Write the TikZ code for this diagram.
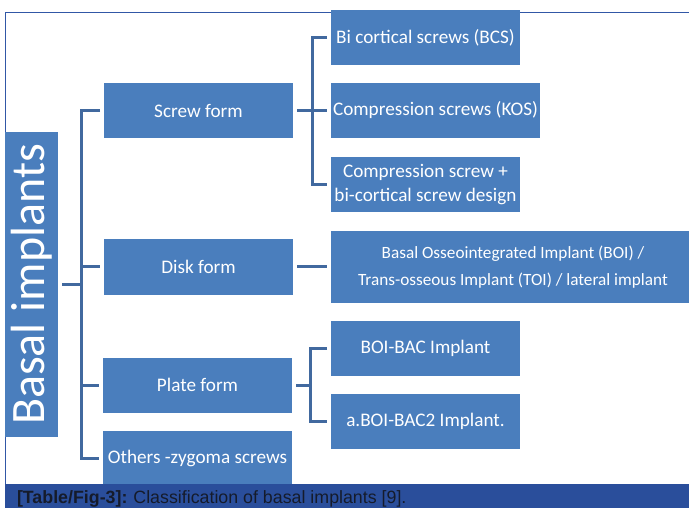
\documentclass[tikz,border=0pt]{standalone}
\usepackage{fontspec}
\setmainfont{Carlito}
\newfontfamily\capfont{Liberation Sans}
\usetikzlibrary{
  positioning,
  calc
}
\definecolor{imblue}{HTML}{4A7EBD}
\definecolor{imline}{HTML}{41699F}
\definecolor{imframe}{HTML}{3157A6}
\definecolor{imbar}{HTML}{2A4E9B}
\definecolor{imcap}{HTML}{151B2B}

\begin{document}
\begin{tikzpicture}[
  x=1pt, y=-1pt,
  every node/.style={fill=imblue, text=white, inner sep=2pt,
    outer xsep=4pt, outer ysep=0pt, align=center},
  rootbox/.style={minimum width=53pt, minimum height=305pt,
    font=\fontsize{48}{50}\selectfont},
  formbox/.style={minimum width=189pt, minimum height=55pt,
    font=\fontsize{19.2}{24}\selectfont},
  leafbox/.style={formbox},
  link/.style={draw=imline, line width=3pt}
]
\useasboundingbox (0,0) rectangle (689,508);

% frame
\draw[imframe, line width=1.3pt] (689,12.7) -- (5.5,12.7) -- (5.5,484);

% root and forms
\node[rootbox] (root) at (31.5,284.5) {\rotatebox{90}{Basal implants}};
\node[formbox] (screw)  at (198.5,110.5) {Screw form};
\node[formbox] (disk)   at (198.5,267)   {Disk form};
\node[formbox] (plate)  at (197.5,385)   {Plate form};
\node[formbox, minimum height=54pt] (others) at (197.5,458) {Others -zygoma screws};

% leaves
\node[leafbox] (bcs)   at (425.5,38)    {Bi cortical screws (BCS)};
\node[leafbox, minimum width=209pt] (kos) at (435.5,110.5) {Compression screws (KOS)};
\node[leafbox] (combo) at (425.5,184.5) {Compression screw +\\bi-cortical screw design};
\node[leafbox, minimum width=364pt, minimum height=72pt,
  font=\fontsize{17.2}{27}\selectfont] (toi) at (513,267)
  {Basal Osseointegrated Implant (BOI) /\\Trans-osseous Implant (TOI) / lateral implant};
\node[leafbox] (bac)   at (425.5,348.5) {BOI-BAC Implant};
\node[leafbox] (bac2)  at (425.5,421.5) {a.BOI-BAC2 Implant.};

% connectors
\coordinate (trunk) at (81,0);
\coordinate (sfork) at (312,0);
\coordinate (pfork) at (310,0);

\draw[link] (root.east) -- (root.east -| trunk);
\draw[link] (screw.west) -- (screw.west -| trunk) -- (others.west -| trunk) -- (others.west);
\draw[link] (disk.west -| trunk) -- (disk.west);
\draw[link] (plate.west -| trunk) -- (plate.west);

\draw[link] (screw.east) -- (screw.east -| sfork);
\draw[link] (bcs.west) -- (bcs.west -| sfork) -- (combo.west -| sfork) -- (combo.west);
\draw[link] (kos.west -| sfork) -- (kos.west);

\draw[link] (disk.east) -- (toi.west);

\draw[link] (plate.east) -- (plate.east -| pfork);
\draw[link] (bac.west) -- (bac.west -| pfork) -- (bac2.west -| pfork) -- (bac2.west);

% caption
\fill[imbar] (5,484) rectangle (689,508);
\node[fill=none, text=imcap, inner sep=0pt, outer sep=0pt, anchor=base west,
  font=\capfont\fontsize{17.8}{20}\selectfont] (cap) at (17,503.5)
  {\textbf{[Table/Fig-3]:}\hspace{6pt}Classification of basal implants [9].};
\end{tikzpicture}
\end{document}
